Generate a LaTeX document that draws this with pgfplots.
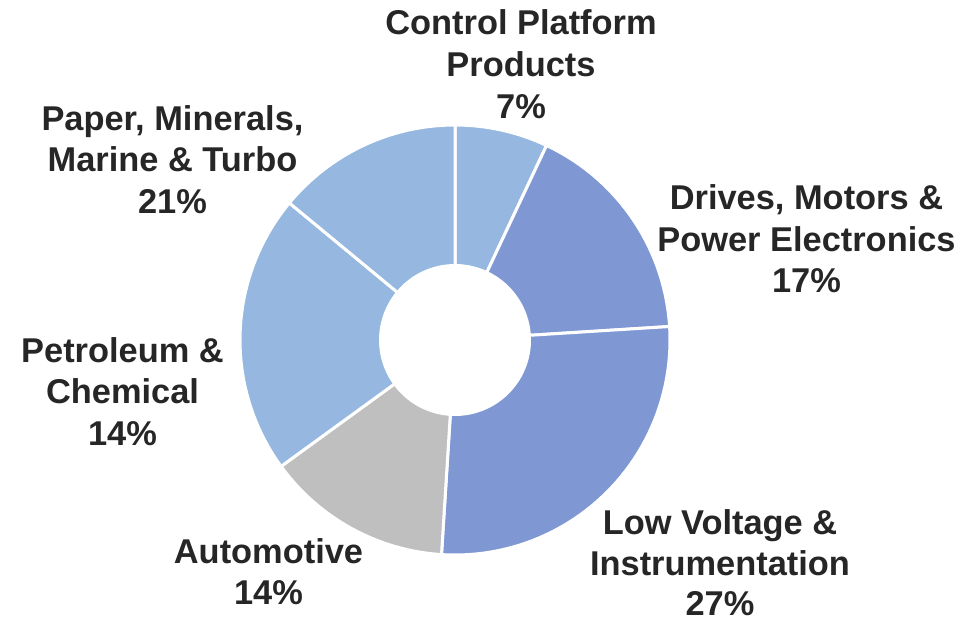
\documentclass[border=0pt]{standalone}
\usepackage{pgfplots}
\pgfplotsset{compat=1.18}
\usepackage{pgfplotstable}
\usepackage{fontspec}
\setmainfont{Liberation Sans}
\definecolor{cLight}{HTML}{95B7E0}
\definecolor{cMid}{HTML}{7F98D4}
\definecolor{cGray}{HTML}{BFBFBF}
\definecolor{txt}{HTML}{262626}

% slice shares (as drawn), clockwise from 12 o'clock
\pgfplotstableread{
share color
7 cLight
17 cMid
27 cMid
14 cGray
21 cLight
14 cLight
}\slices

\newcommand{\lbl}[3]{\node[anchor=base,inner sep=0pt,text=txt,font=\bfseries\fontsize{34.4bp}{41.5bp}\selectfont] at (axis cs:#1,#2) {#3};}

\begin{document}
\begin{tikzpicture}
\begin{axis}[
  width=973bp, height=622bp, scale only axis,
  xmin=0, xmax=973, ymin=0, ymax=622, y dir=reverse,
  hide axis, clip=false]
\pgfplotstablegetrowsof{\slices}
\pgfmathtruncatemacro\nlast{\pgfplotsretval-1}
\def\cum{0}
\pgfplotsforeachungrouped \i in {0,...,\nlast}{%
  \pgfplotstablegetelem{\i}{share}\of\slices \let\val\pgfplotsretval
  \pgfplotstablegetelem{\i}{color}\of\slices \let\col\pgfplotsretval
  \pgfmathsetmacro\aone{90-3.6*\cum}%
  \pgfmathsetmacro\atwo{90-3.6*(\cum+\val)}%
  \pgfmathsetmacro\aback{\atwo+180}%
  \pgfmathsetmacro\cum{\cum+\val}%
  \edef\temp{\noexpand\filldraw[fill=\col,draw=white,line width=3bp]
    (axis cs:455,340) ++(\aone:215bp) arc[start angle=\aone,end angle=\atwo,radius=215bp]
    -- ++(\aback:140.5bp) arc[start angle=\atwo,end angle=\aone,radius=74.5bp] -- cycle;}%
  \temp
}
% labels (line by line, baselines)
\lbl{521}{35}{Control Platform}
\lbl{521}{76.5}{Products}
\lbl{521}{118}{7\%}
\lbl{806.5}{209}{Drives, Motors \&}
\lbl{806.5}{251}{Power Electronics}
\lbl{806.5}{292.5}{17\%}
\lbl{720}{534}{Low Voltage \&}
\lbl{720}{575}{Instrumentation}
\lbl{720}{615.5}{27\%}
\lbl{268.5}{563}{Automotive}
\lbl{268.5}{604.5}{14\%}
\lbl{122.5}{362}{Petroleum \&}
\lbl{122.5}{403.5}{Chemical}
\lbl{122.5}{445}{14\%}
\lbl{172.5}{130}{Paper, Minerals,}
\lbl{172.5}{171.5}{Marine \& Turbo}
\lbl{172.5}{213}{21\%}
\end{axis}
\pgfresetboundingbox
\useasboundingbox (current axis.south west) rectangle (current axis.north east);
\end{tikzpicture}
\end{document}
